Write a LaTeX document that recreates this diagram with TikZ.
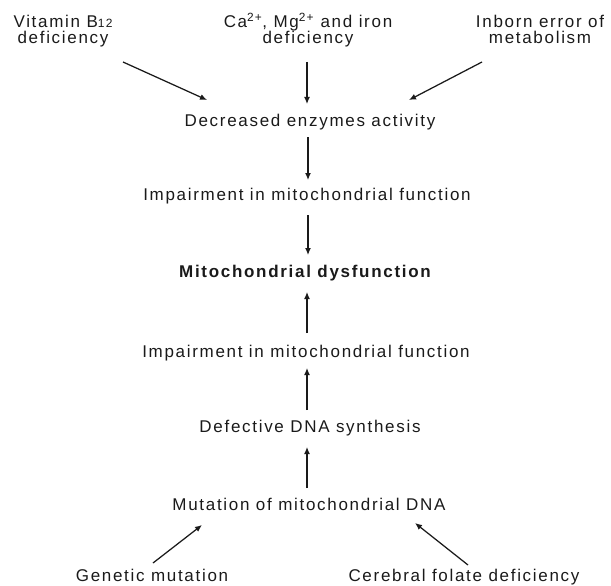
\documentclass[tikz,border=0pt]{standalone}
\usepackage{fontspec}
\setmainfont{Liberation Sans}[LetterSpace=10]
\usetikzlibrary{arrows.meta}
\definecolor{ink}{HTML}{1A1A1A}
\begin{document}
\begin{tikzpicture}[x=1pt,y=-1pt,
  lbl/.style={inner sep=0pt,anchor=base,align=center,text=ink,font=\fontsize{17}{16}\selectfont},
  arr/.style={draw=ink,line width=1.25pt,-{Latex[length=7pt,width=6pt]}}]
\useasboundingbox (0,0) rectangle (611,586);
\node[lbl] (vit) at (63,44) {Vitamin B{\fontsize{12}{12}\selectfont 12}\\deficiency};
\node[lbl] (ca) at (308,44) {Ca\textsuperscript{2+}, Mg\textsuperscript{2+} and iron\\deficiency};
\node[lbl] (inb) at (540,44) {Inborn error of\\metabolism};
\node[lbl] (dec) at (310,126) {Decreased enzymes activity};
\node[lbl] (imp1) at (307,200) {Impairment in mitochondrial function};
\node[lbl,font=\fontsize{17}{16}\selectfont\bfseries] (mito) at (305,277) {Mitochondrial dysfunction};
\node[lbl] (imp2) at (306,357) {Impairment in mitochondrial function};
\node[lbl] (def) at (310,432) {Defective DNA synthesis};
\node[lbl] (mut) at (309,510) {Mutation of mitochondrial DNA};
\node[lbl] (gen) at (152,581) {Genetic mutation};
\node[lbl] (cer) at (464,581) {Cerebral folate deficiency};
\draw[arr] ([shift={(60,18)}]vit.base) -- ([shift={(-103,-26)}]dec.base);
\draw[arr] ([shift={(-1,18)}]ca.base) -- ([shift={(-3,-22)}]dec.base);
\draw[arr] ([shift={(-58,18)}]inb.base) -- ([shift={(99,-26)}]dec.base);
\draw[arr] ([shift={(-2,11)}]dec.base) -- ([shift={(1,-20)}]imp1.base);
\draw[arr] ([shift={(1,15)}]imp1.base) -- ([shift={(3,-22)}]mito.base);
\draw[arr] ([shift={(1,-24)}]imp2.base) -- ([shift={(2,15)}]mito.base);
\draw[arr] ([shift={(-3,-22)}]def.base) -- ([shift={(1,11)}]imp2.base);
\draw[arr] ([shift={(-2,-22)}]mut.base) -- ([shift={(-3,15)}]def.base);
\draw[arr] ([shift={(1,-18)}]gen.base) -- ([shift={(-107,15)}]mut.base);
\draw[arr] ([shift={(4,-16)}]cer.base) -- ([shift={(106,13)}]mut.base);
\end{tikzpicture}
\end{document}
